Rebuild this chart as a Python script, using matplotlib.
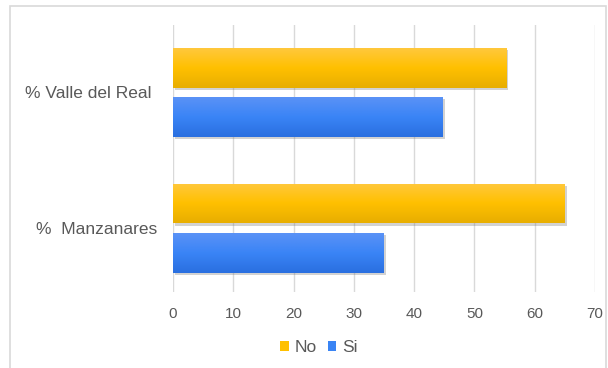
import matplotlib
matplotlib.use("Agg")
import matplotlib.pyplot as plt
import numpy as np
from matplotlib import patheffects as pe
from matplotlib.patches import Rectangle
from matplotlib.colors import LinearSegmentedColormap
from matplotlib.transforms import ScaledTranslation

categories = ["%  Manzanares", "% Valle del Real"]
series_names = ["No", "Si"]
no_values = [65.0, 55.3]
si_values = [35.0, 44.7]
xticks = [0, 10, 20, 30, 40, 50, 60, 70]

plt.rcParams['font.family'] = ['Liberation Sans', 'DejaVu Sans']

fig = plt.figure(figsize=(6.08, 3.68), dpi=100)
ax = fig.add_axes([173/608, 1-292/368, (595-173)/608, (292-25)/368])

# figure frame
fig.patches.append(Rectangle((10/608, -0.01), (606-10)/608, 1-6/368+0.01,
                             transform=fig.transFigure, fill=False,
                             edgecolor='#D9D9D9', lw=1.2))

y = np.arange(len(categories))
h = 0.295
off = 0.181

shadow = [pe.SimplePatchShadow(offset=(1.5, -1.5), shadow_rgbFace='#808080', alpha=0.35), pe.Normal()]
b_no = ax.barh(y + off, no_values, height=h, color='#FFC000', zorder=3, path_effects=shadow, label=series_names[0])
b_si = ax.barh(y - off, si_values, height=h, color='#3A84F4', zorder=3, path_effects=shadow, label=series_names[1])

cm_no = LinearSegmentedColormap.from_list('no', ['#FFC83C', '#FFC000', '#E8AE00'])
cm_si = LinearSegmentedColormap.from_list('si', ['#5A92F6', '#3A84F6', '#2A6FE0'])
grad = np.linspace(0, 1, 64).reshape(-1, 1)
for bars, cm in ((b_no, cm_no), (b_si, cm_si)):
    for r in bars:
        x0, y0 = r.get_x(), r.get_y()
        w, hh = r.get_width(), r.get_height()
        im = ax.imshow(grad, cmap=cm, aspect='auto', extent=(x0, x0 + w, y0, y0 + hh),
                       origin='upper', zorder=4, interpolation='bilinear')
        im.set_clip_path(r)

ax.set_xlim(0, 70)
ax.set_ylim(-0.472, 1.498)
ax.set_xticks(xticks)
ax.set_xticklabels([str(t) for t in xticks])
ax.set_yticks(y)
ax.set_yticklabels(categories)
ax.tick_params(axis='both', length=0, colors='#595959')
ax.tick_params(axis='x', labelsize=11, pad=11)
ax.tick_params(axis='y', labelsize=12.5, pad=11.5)
ax.grid(axis='x', color='#D9D9D9', lw=1, zorder=0)
ax.set_axisbelow(True)
for s in ax.spines.values():
    s.set_visible(False)

# reference shows the Valle label sitting a bit further left
lab = ax.get_yticklabels()[1]
lab.set_transform(lab.get_transform() + ScaledTranslation(-6/100, 0, fig.dpi_scale_trans))

leg = fig.legend(handles=[b_no, b_si], labels=series_names, loc='center',
                 bbox_to_anchor=(319/608, 1-348/368), ncol=2, frameon=False,
                 handlelength=0.5, handleheight=0.5, handletextpad=0.35,
                 columnspacing=0.6, fontsize=12.5)
for t in leg.get_texts():
    t.set_color('#595959')
for hdl in leg.legend_handles:
    hdl.set_path_effects([])

fig.savefig('out.png', dpi=100)
